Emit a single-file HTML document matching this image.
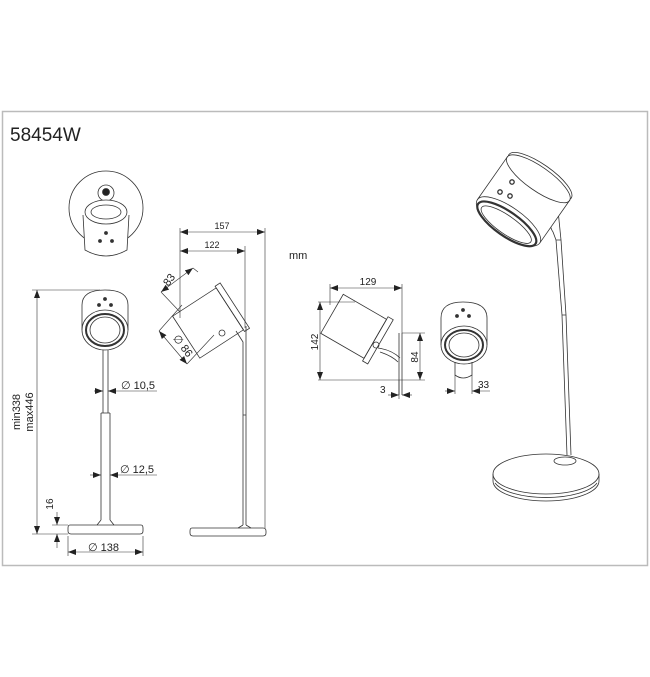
<!DOCTYPE html>
<html><head><meta charset="utf-8"><style>
body{margin:0;background:#fff;width:650px;height:677px;overflow:hidden}
svg{display:block}
text{font-family:"Liberation Sans",sans-serif;fill:#222}
</style></head><body>
<svg width="650" height="677" viewBox="0 0 650 677" xmlns="http://www.w3.org/2000/svg">
<defs>
<marker id="a" markerWidth="8" markerHeight="6" refX="8" refY="3" orient="auto-start-reverse" markerUnits="userSpaceOnUse"><path d="M0,0 L8,3 L0,6z" fill="#222"/></marker>
</defs>
<rect x="2.5" y="111.5" width="645" height="454" fill="none" stroke="#bbb" stroke-width="1.5"/>
<text x="10" y="141" font-size="19">58454W</text>
<text x="289" y="259" font-size="11">mm</text>
<g fill="none" stroke="#333" stroke-width="0.8">
<circle cx="106" cy="208" r="37"/>
<circle cx="106" cy="193" r="8"/>
<circle cx="106" cy="192" r="3.5" fill="#222"/>
<path d="M83,215 L85,250 Q106,262 127,250 L129,215" fill="#fff"/>
<ellipse cx="106" cy="212" rx="21" ry="12" fill="#fff"/>
<ellipse cx="106" cy="212" rx="15" ry="7"/>
<circle cx="106" cy="233" r="1.5" fill="#333"/><circle cx="100" cy="241" r="1.5" fill="#333"/><circle cx="112" cy="241" r="1.5" fill="#333"/>
<path d="M82,330 L82,305 Q82,290 105,290 Q128,290 128,305 L128,330"/>
<ellipse cx="105" cy="330" rx="23" ry="20"/>
<ellipse cx="105" cy="330" rx="19" ry="16" stroke-width="2"/>
<ellipse cx="105" cy="330" rx="15" ry="13"/>
<circle cx="105" cy="299" r="1.5" fill="#333"/><circle cx="99" cy="305" r="1.5" fill="#333"/><circle cx="111" cy="305" r="1.5" fill="#333"/>
<path d="M103,350 L103,413 M108,350 L108,413 M101,413 L101,520 M110,413 L110,520 M101,413 H110 M101,520 L97,525 M110,520 L114,525"/>
<path d="M70,525 H141 Q143,525 143,528 V531 Q143,534 140,534 H71 Q68,534 68,531 V528 Q68,525 70,525z"/>
<g stroke="#333" stroke-width="0.6">
<path d="M32,290 H100 M32,534 H68" />
<line x1="37" y1="290" x2="37" y2="534" marker-start="url(#a)" marker-end="url(#a)"/>
<line x1="57" y1="512" x2="57" y2="525" marker-end="url(#a)"/>
<line x1="57" y1="548" x2="57" y2="534" marker-end="url(#a)"/>
<path d="M52,525 H68 M68,536 V556 M143,536 V556"/>
<line x1="68" y1="552" x2="143" y2="552" marker-start="url(#a)" marker-end="url(#a)"/>
<line x1="94" y1="391" x2="103" y2="391" marker-end="url(#a)"/>
<line x1="157" y1="391" x2="108" y2="391" marker-end="url(#a)"/>
<line x1="90" y1="475" x2="101" y2="475" marker-end="url(#a)"/>
<line x1="157" y1="475" x2="110" y2="475" marker-end="url(#a)"/>
</g>
<g transform="rotate(-33 208 323)">
<rect x="182" y="298" width="52" height="50"/>
<rect x="234" y="296" width="6" height="54"/>
</g>
<path d="M236,331 L243,342 L243,525 M246,326 L246,525 M243,415 H246 M243,525 L238,528 M246,525 L251,528"/>
<circle cx="222" cy="333" r="3"/>
<path d="M192,528 H263 Q266,528 266,531 V533 Q266,536 263,536 H193 Q190,536 190,533 V531 Q190,528 192,528z"/>
<g stroke-width="0.6">
<path d="M180,228 V318 M265,228 V528 M245,246 V328"/>
<line x1="180" y1="232" x2="265" y2="232" marker-start="url(#a)" marker-end="url(#a)"/>
<line x1="180" y1="251" x2="245" y2="251" marker-start="url(#a)" marker-end="url(#a)"/>
<line x1="161" y1="292" x2="193" y2="268" marker-start="url(#a)" marker-end="url(#a)"/>
<line x1="159" y1="331" x2="187" y2="364" marker-start="url(#a)" marker-end="url(#a)"/>
<path d="M161,292 L180,312 M193,268 L198,272 M159,331 L182,305 M187,364 L214,335"/>
</g>
<g transform="rotate(30 355 330)">
<rect x="327" y="305" width="50" height="45"/>
<rect x="377" y="302" width="6" height="51"/>
</g>
<circle cx="376" cy="345" r="3"/>
<path d="M378,348 Q392,350 400,358 M380,352 Q392,356 398,362 M399,333 V395 M402,333 V395"/>
<g stroke-width="0.6">
<path d="M330,284 V305 M402,284 V333 M318,302 H355 M318,380 H425 M402,333 H425 M399,380 V399"/>
<line x1="330" y1="288" x2="402" y2="288" marker-start="url(#a)" marker-end="url(#a)"/>
<line x1="320" y1="302" x2="320" y2="380" marker-start="url(#a)" marker-end="url(#a)"/>
<line x1="420" y1="333" x2="420" y2="380" marker-start="url(#a)" marker-end="url(#a)"/>
<line x1="388" y1="395" x2="399" y2="395" marker-end="url(#a)"/>
<line x1="412" y1="395" x2="402" y2="395" marker-end="url(#a)"/>
</g>
<path d="M441,345 L441,318 Q441,302 463,302 Q487,302 487,318 L487,345"/>
<ellipse cx="464" cy="345" rx="23" ry="19"/>
<ellipse cx="464" cy="345" rx="19" ry="15" stroke-width="2"/>
<ellipse cx="464" cy="345" rx="15" ry="12"/>
<circle cx="463" cy="310" r="1.5" fill="#333"/><circle cx="457" cy="316" r="1.5" fill="#333"/><circle cx="469" cy="316" r="1.5" fill="#333"/>
<path d="M455,362 V375 Q463,381 472,375 V362"/>
<g stroke-width="0.6">
<path d="M455,375 V394 M472,375 V394"/>
<line x1="445" y1="391" x2="455" y2="391" marker-end="url(#a)"/>
<line x1="490" y1="391" x2="472" y2="391" marker-end="url(#a)"/>
</g>
<path d="M552,215 Q548,225 553,232 L556,240 L562,315 L567,455 M558,210 L561,240 L566,315 L571,455 M562,315 H566 M556,240 H561"/>
<g transform="rotate(35 520 205)" fill="#fff">
<path d="M482,172 V225 A38,14 0 0 0 558,225 V172z" stroke="none"/>
<ellipse cx="520" cy="170" rx="38" ry="12"/>
<ellipse cx="520" cy="173" rx="38" ry="12"/>
<path d="M482,172 V225 M558,172 V225"/>
<ellipse cx="520" cy="225" rx="38" ry="14"/>
<ellipse cx="520" cy="228" rx="35" ry="12" stroke-width="2.2"/>
<ellipse cx="520" cy="229" rx="30" ry="9"/>
</g>
<circle cx="512" cy="182" r="2.2" stroke-width="1.3"/><circle cx="500" cy="192" r="2.2" stroke-width="1.3"/><circle cx="510" cy="196" r="2.2" stroke-width="1.3"/>
<ellipse cx="565" cy="461" rx="11" ry="4"/>
<ellipse cx="546" cy="474" rx="53" ry="20"/>
<path d="M493,474 V481 A53,20 0 0 0 599,481 V474"/>
<path d="M495,483 A53,20 0 0 0 597,483"/>
</g>
<g font-size="11">
<text transform="translate(20,412) rotate(-90)" text-anchor="middle">min338</text>
<text transform="translate(33,412) rotate(-90)" text-anchor="middle">max446</text>
<text transform="translate(53,504) rotate(-90)" text-anchor="middle" font-size="10">16</text>
<text x="88" y="551" font-size="11">∅ 138</text>
<text x="121" y="389">∅ 10,5</text>
<text x="120" y="473">∅ 12,5</text>
<text x="222" y="229" text-anchor="middle" font-family="Liberation Serif" font-size="9">157</text>
<text x="212" y="248" text-anchor="middle" font-family="Liberation Serif" font-size="9">122</text>
<text transform="translate(172,282) rotate(-53)" text-anchor="middle">83</text>
<text transform="translate(180,348) rotate(53)" text-anchor="middle">∅ 86</text>
<text x="368" y="285" text-anchor="middle" font-size="10">129</text>
<text transform="translate(318,342) rotate(-90)" text-anchor="middle" font-size="10">142</text>
<text transform="translate(418,357) rotate(-90)" text-anchor="middle" font-size="10">84</text>
<text x="380" y="393" font-size="10">3</text>
<text x="478" y="388" font-size="10">33</text>
</g>
</svg>
</body></html>
